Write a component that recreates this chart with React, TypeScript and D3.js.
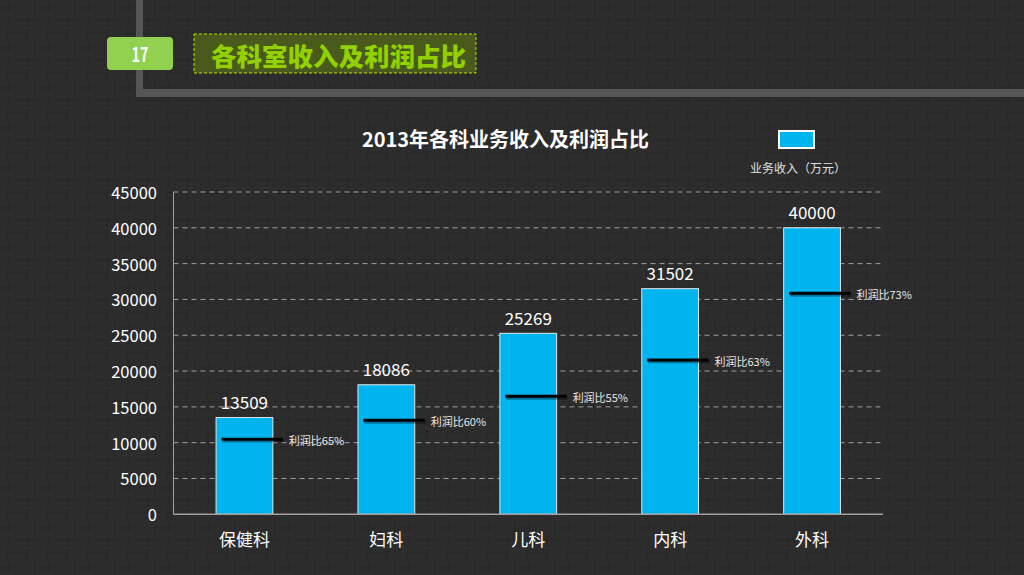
import React from "react";
import * as d3 from "d3";

const categories = ["保健科", "妇科", "儿科", "内科", "外科"];
const revenue = [13509, 18086, 25269, 31502, 40000];
const profitMarker = [10470, 13120, 16470, 21540, 30850];
const profitLabels = ["利润比65%", "利润比60%", "利润比55%", "利润比63%", "利润比73%"];
const yTicks = [0, 5000, 10000, 15000, 20000, 25000, 30000, 35000, 40000, 45000];

const W = 1024;
const H = 575;
const plot = { left: 173.5, right: 883, top: 192, bottom: 514.3 };
const FONT = "'Noto Sans CJK SC', 'Noto Sans', sans-serif";

export default function App() {
  const x = d3
    .scaleBand<string>()
    .domain(categories)
    .range([plot.left, plot.right])
    .paddingInner(0.6)
    .paddingOuter(0.3);
  const y = d3.scaleLinear().domain([0, 45000]).range([plot.bottom, plot.top]);
  const bw = x.bandwidth();

  return (
    <div style={{ position: "absolute", left: 0, top: 0, width: W, height: H }}>
      <svg width={W} height={H} style={{ display: "block" }} fontFamily={FONT}>
        <defs>
          <pattern id="tex" width="40" height="40" patternUnits="userSpaceOnUse">
            <rect width="40" height="40" fill="#2c2c2c" />
            <path d="M0 7H22M15 20H40M5 33H28M9 0V25M27 12V40M35 0V18" stroke="#262626" strokeWidth="1" />
            <path d="M2 15H12M20 28H34M18 3V10M3 25V38" stroke="#323232" strokeWidth="1" />
          </pattern>
        </defs>
        <rect width={W} height={H} fill="url(#tex)" />

        {/* frame */}
        <rect x={136} y={0} width={7} height={97} fill="#555555" />
        <rect x={136} y={89} width={W - 136} height={8} fill="#555555" />

        {/* header */}
        <rect x={107} y={37} width={66} height={33} rx={4} fill="#92D050" />
        <text x={140} y={53} textAnchor="middle" dominantBaseline="central" fill="#fff" fontSize={18} fontWeight={700} transform="translate(140 53) scale(0.8 1.1) translate(-140 -53)">
          17
        </text>
        <rect x={194} y={34} width={282} height={39} fill="#4a5a1c" stroke="#b5e000" strokeWidth={1} strokeDasharray="3,2" />
        <text x={211} y={54} dominantBaseline="central" fill="#92D000" fontSize={25.5} fontWeight={900}>
          各科室收入及利润占比
        </text>

        {/* chart title */}
        <text x={505.5} y={138} textAnchor="middle" dominantBaseline="central" fill="#fff" fontSize={20} fontWeight={700}>
          2013年各科业务收入及利润占比
        </text>

        {/* legend */}
        <rect x={779} y={131} width={35} height={17} fill="#00B4F0" stroke="#fff" strokeWidth={2} />
        <text x={798} y={167} textAnchor="middle" dominantBaseline="central" fill="#e0e0e0" fontSize={12}>
          业务收入（万元）
        </text>

        {/* grid */}
        {yTicks.filter((t) => t > 0).map((t) => (
          <line key={t} x1={plot.left} x2={plot.right} y1={y(t)} y2={y(t)} stroke="#a0a0a0" strokeWidth={1} strokeDasharray="5,4" />
        ))}
        {yTicks.map((t) => (
          <text key={"l" + t} x={157} y={y(t)} textAnchor="end" dominantBaseline="central" fill="#fff" fontSize={16.5}>
            {t}
          </text>
        ))}

        {/* bars */}
        {categories.map((c, i) => {
          const x0 = x(c)!;
          const py = y(profitMarker[i]);
          return (
            <g key={c}>
              <rect x={x0} y={y(revenue[i])} width={bw} height={y(0) - y(revenue[i])} fill="#00B4F0" stroke="#e6e6e6" strokeWidth={1} />
              <text x={x0 + bw / 2} y={y(revenue[i]) - 16} textAnchor="middle" dominantBaseline="central" fill="#fff" fontSize={17}>
                {revenue[i]}
              </text>
              <line x1={x0 + 6.5} x2={x0 + bw + 11} y1={py + 1.8} y2={py + 1.8} stroke="rgba(0,0,0,0.35)" strokeWidth={3} />
              <line x1={x0 + 5.5} x2={x0 + bw + 10} y1={py} y2={py} stroke="#000" strokeWidth={3} />
              <text x={x0 + bw + 16} y={py + 1} dominantBaseline="central" fill="#e8e8e8" fontSize={11}>
                {profitLabels[i]}
              </text>
              <text x={x0 + bw / 2} y={538} textAnchor="middle" dominantBaseline="central" fill="#fff" fontSize={17}>
                {c}
              </text>
            </g>
          );
        })}

        {/* axes */}
        <line x1={plot.left} x2={plot.left} y1={plot.top} y2={plot.bottom} stroke="#a0a0a0" strokeWidth={1} />
        <line x1={plot.left} x2={plot.right} y1={plot.bottom} y2={plot.bottom} stroke="#a0a0a0" strokeWidth={1.5} />
      </svg>
    </div>
  );
}
